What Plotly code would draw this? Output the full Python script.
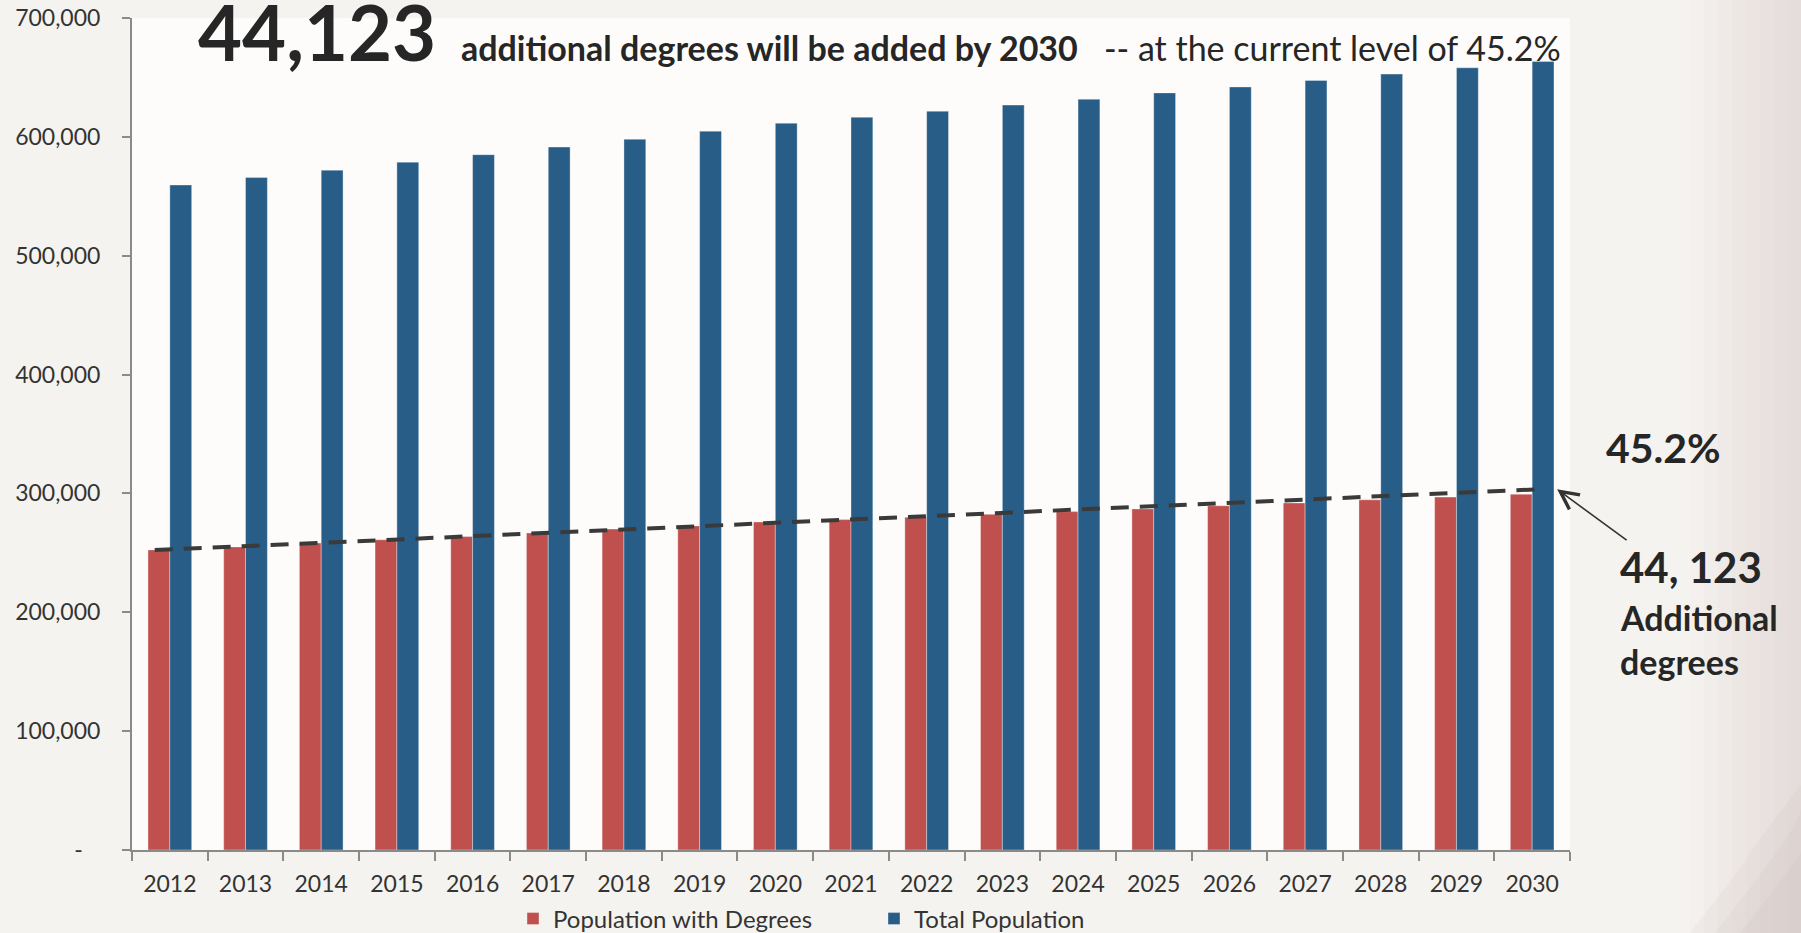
import plotly.graph_objects as go

years = [str(y) for y in range(2012, 2031)]
total_population = [559500, 565900, 572000, 578700, 585000, 591400, 598000, 604800, 611500,
                    616500, 621600, 626700, 631700, 637000, 642000, 647500, 652800, 658100, 663500]
pop_with_degrees = [252500, 255000, 258200, 261000, 263700, 266800, 270000, 272700, 276000,
                    278000, 280000, 282400, 284700, 287000, 289600, 292000, 294600, 296900, 299400]
trend_values = [252300, 303600]
y_ticks = [0, 100000, 200000, 300000, 400000, 500000, 600000, 700000]
y_tick_text = ["-\u00a0\u00a0\u00a0", "100,000", "200,000", "300,000", "400,000", "500,000", "600,000", "700,000"]

W, H = 1801, 933
L, R, T, B = 132, 231, 18, 83
PW, PH = W - L - R, H - T - B

def px(x):
    return (x - L) / PW

def py(y):
    return (H - B - y) / PH

FONT = "Lato, 'Open Sans', sans-serif"
RED = "#c0504d"
BLUE = "#275d87"

fig = go.Figure()
fig.add_trace(go.Bar(x=years, y=pop_with_degrees, name="Population with Degrees",
                     marker=dict(color=RED, line=dict(color="rgba(255,255,255,0.35)", width=1))))
fig.add_trace(go.Bar(x=years, y=total_population, name="Total Population",
                     marker=dict(color=BLUE, line=dict(color="rgba(255,255,255,0.35)", width=1))))
fig.add_trace(go.Scatter(x=[-0.2, 18.12], y=trend_values, xaxis="x2", mode="lines",
                         line=dict(color="#3a3a3a", width=4, dash="18px,11px"),
                         showlegend=False, hoverinfo="skip"))

# faint paper texture towards the right edge (soft gradient)
for i in range(8):
    x0 = 1690 + i * 14
    fig.add_shape(type="rect", xref="paper", yref="paper", x0=px(x0), x1=px(1801), y0=py(933), y1=py(0),
                  fillcolor="rgba(190,184,176,0.035)", line=dict(width=0), layer="below")
for k, a in enumerate([0.08, 0.08, 0.08]):
    o = k * 25
    fig.add_shape(type="path", xref="paper", yref="paper",
                  path=(f"M {px(1690 + o)},{py(933)} L {px(1735 + o)},{py(875)} L {px(1770 + o)},{py(825)} "
                        f"L {px(1801)},{py(785 + o)} L {px(1801)},{py(933)} Z"),
                  fillcolor=f"rgba(175,168,160,{a})", line=dict(width=0), layer="below")

fig.update_layout(
    width=W, height=H,
    margin=dict(l=L, r=R, t=T, b=B, pad=0, autoexpand=False),
    paper_bgcolor="#f5f3f0",
    plot_bgcolor="#fdfcfa",
    barmode="group", bargap=0.423, bargroupgap=0,
    font=dict(family=FONT, size=23, color="#333333"),
    xaxis=dict(type="category", showgrid=False, showline=True, linecolor="#8a8a8a", linewidth=2,
               ticks="outside", ticklen=9, tickcolor="#8a8a8a", tickwidth=1.5, tickson="boundaries",
               ticklabelstandoff=12, tickfont=dict(size=23, color="#333333"), range=[-0.5, 18.5]),
    xaxis2=dict(overlaying="x", range=[-0.5, 18.5], visible=False),
    yaxis=dict(range=[0, 700000], tickvals=y_ticks, ticktext=y_tick_text, showgrid=False,
               showline=True, linecolor="#8a8a8a", linewidth=2, ticks="outside", ticklen=8,
               tickcolor="#8a8a8a", tickwidth=1.5, ticklabelstandoff=17, zeroline=False,
               tickfont=dict(size=23, color="#333333")),
    legend=dict(orientation="h", x=px(513), xanchor="left", y=py(919), yanchor="middle",
                bgcolor="rgba(0,0,0,0)", font=dict(size=24, color="#333333"), itemwidth=30,
                entrywidth=316, entrywidthmode="pixels"),
    showlegend=True,
)

headline = ("<span style='font-size:76px'><b>44,123</b></span>"
            "<b>\u00a0\u00a0\u00a0additional degrees will be added by 2030</b>"
            "\u00a0\u00a0\u00a0-- at the current level of 45.2%")
fig.add_annotation(text=headline, xref="paper", yref="paper", x=px(196), y=py(31),
                   xanchor="left", yanchor="middle", showarrow=False,
                   font=dict(family=FONT, size=34, color="#262626"))

fig.add_annotation(text="<b>45.2%</b>", xref="paper", yref="paper", x=px(1604), y=py(447),
                   xanchor="left", yanchor="middle", showarrow=False,
                   font=dict(family=FONT, size=41, color="#262626"))
fig.add_annotation(text="<b>44, 123</b>", xref="paper", yref="paper", x=px(1618), y=py(567),
                   xanchor="left", yanchor="middle", showarrow=False,
                   font=dict(family=FONT, size=42, color="#262626"))
fig.add_annotation(text="<b>Additional</b>", xref="paper", yref="paper", x=px(1618), y=py(617),
                   xanchor="left", yanchor="middle", showarrow=False,
                   font=dict(family=FONT, size=34, color="#262626"))
fig.add_annotation(text="<b>degrees</b>", xref="paper", yref="paper", x=px(1618), y=py(661),
                   xanchor="left", yanchor="middle", showarrow=False,
                   font=dict(family=FONT, size=34, color="#262626"))

fig.add_annotation(text="", xref="x2", yref="y", x=18.33, y=303500, ax=71, ay=52,
                   showarrow=True, arrowhead=5, arrowsize=2.2, arrowwidth=1.6,
                   arrowcolor="#333333", standoff=0)

fig.write_html("out.html")
